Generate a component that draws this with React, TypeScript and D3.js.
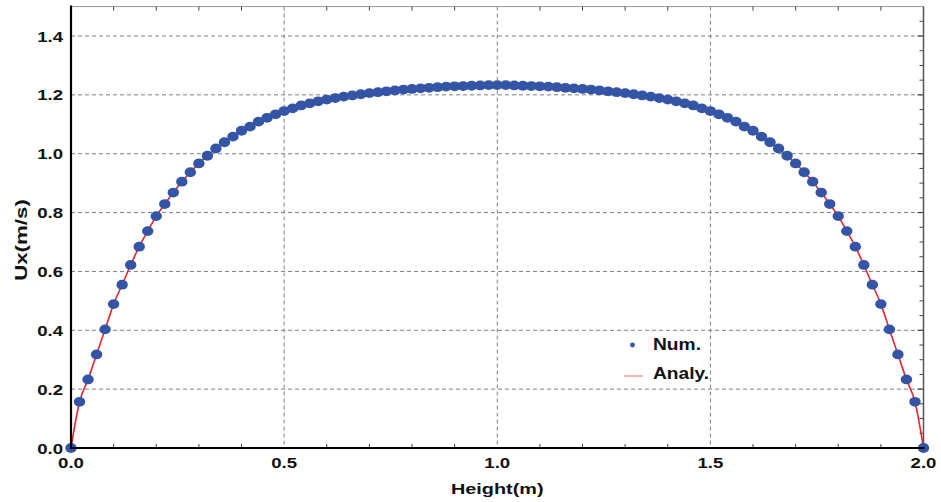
import React from "react";
import * as d3 from "d3";

const heights = [
  0.0, 0.02, 0.04, 0.06, 0.08, 0.1, 0.12, 0.14, 0.16, 0.18,
  0.2, 0.22, 0.24, 0.26, 0.28, 0.3, 0.32, 0.34, 0.36, 0.38,
  0.4, 0.42, 0.44, 0.46, 0.48, 0.5, 0.52, 0.54, 0.56, 0.58,
  0.6, 0.62, 0.64, 0.66, 0.68, 0.7, 0.72, 0.74, 0.76, 0.78,
  0.8, 0.82, 0.84, 0.86, 0.88, 0.9, 0.92, 0.94, 0.96, 0.98,
  1.0, 1.02, 1.04, 1.06, 1.08, 1.1, 1.12, 1.14, 1.16, 1.18,
  1.2, 1.22, 1.24, 1.26, 1.28, 1.3, 1.32, 1.34, 1.36, 1.38,
  1.4, 1.42, 1.44, 1.46, 1.48, 1.5, 1.52, 1.54, 1.56, 1.58,
  1.6, 1.62, 1.64, 1.66, 1.68, 1.7, 1.72, 1.74, 1.76, 1.78,
  1.8, 1.82, 1.84, 1.86, 1.88, 1.9, 1.92, 1.94, 1.96, 1.98,
  2.0,
];

const uxNum = [
  0.0, 0.157, 0.233, 0.318, 0.403, 0.489, 0.555, 0.622, 0.684, 0.737,
  0.788, 0.829, 0.868, 0.905, 0.937, 0.967, 0.993, 1.018, 1.039, 1.058,
  1.078, 1.092, 1.109, 1.122, 1.134, 1.145, 1.154, 1.164, 1.171, 1.178,
  1.184, 1.189, 1.194, 1.198, 1.202, 1.206, 1.209, 1.212, 1.215, 1.218,
  1.22, 1.222, 1.224, 1.226, 1.228, 1.229, 1.23, 1.231, 1.232, 1.233,
  1.233, 1.233, 1.232, 1.231, 1.23, 1.229, 1.228, 1.226, 1.224, 1.222,
  1.22, 1.218, 1.215, 1.212, 1.209, 1.206, 1.202, 1.198, 1.194, 1.189,
  1.184, 1.178, 1.171, 1.164, 1.154, 1.145, 1.134, 1.122, 1.109, 1.092,
  1.078, 1.058, 1.039, 1.018, 0.993, 0.967, 0.937, 0.905, 0.868, 0.829,
  0.788, 0.737, 0.684, 0.622, 0.555, 0.489, 0.403, 0.318, 0.233, 0.157,
  0.0,
];

const uxAnaly = uxNum;

const xMajorTicks = [0.0, 0.5, 1.0, 1.5, 2.0];
const xTickLabels = ["0.0", "0.5", "1.0", "1.5", "2.0"];
const xMinorTicks = [0.1, 0.2, 0.3, 0.4, 0.6, 0.7, 0.8, 0.9, 1.1, 1.2, 1.3, 1.4, 1.6, 1.7, 1.8, 1.9];
const yMajorTicks = [0.0, 0.2, 0.4, 0.6, 0.8, 1.0, 1.2, 1.4];
const yTickLabels = ["0.0", "0.2", "0.4", "0.6", "0.8", "1.0", "1.2", "1.4"];
const yMinorTicks = [0.05, 0.1, 0.15, 0.25, 0.3, 0.35, 0.45, 0.5, 0.55, 0.65, 0.7, 0.75, 0.85, 0.9, 0.95, 1.05, 1.1, 1.15, 1.25, 1.3, 1.35, 1.45];
const legendLabels = ["Num.", "Analy."];

const W = 941;
const H = 502;
const left = 71;
const right = 923.5;
const bottom = 448;

const FONT = "'Liberation Sans', Arial, Helvetica, sans-serif";

export default function App() {
  const x = d3.scaleLinear().domain([0, 2]).range([left, right]);
  const y = d3.scaleLinear().domain([0, 1.5]).range([bottom, bottom - 1.5 * (412 / 1.4)]);
  const pts = heights.map((h, i) => [h, uxNum[i]] as [number, number]);
  const line = d3
    .line<[number, number]>()
    .x((d) => x(d[0]))
    .y((d) => y(d[1]))
    .curve(d3.curveMonotoneX);
  const analyPts = heights.map((h, i) => [h, uxAnaly[i]] as [number, number]);
  const yTop = y(1.5);

  return (
    <svg
      width={W}
      height={H}
      style={{ position: "absolute", left: 0, top: 0, background: "#fff" }}
    >
      <rect x={0} y={0} width={W} height={H} fill="#fff" />
      {xMajorTicks.slice(1, -1).map((t) => (
        <line key={"gx" + t} x1={x(t)} x2={x(t)} y1={yTop} y2={bottom} stroke="#808080" strokeWidth={1} strokeDasharray="4,3" />
      ))}
      {yMajorTicks.slice(1).map((t) => (
        <line key={"gy" + t} x1={left} x2={right} y1={y(t)} y2={y(t)} stroke="#808080" strokeWidth={1} strokeDasharray="4,3" />
      ))}
      <line x1={left} x2={right} y1={yTop} y2={yTop} stroke="#9a9a9a" strokeWidth={1} />
      <line x1={right} x2={right} y1={yTop} y2={bottom} stroke="#555" strokeWidth={1.5} />
      {xMinorTicks.map((t) => (
        <g key={"xt" + t}>
          <line x1={x(t)} x2={x(t)} y1={bottom} y2={bottom - 4} stroke="#444" strokeWidth={1} />
          <line x1={x(t)} x2={x(t)} y1={yTop} y2={yTop + 4} stroke="#444" strokeWidth={1} />
        </g>
      ))}
      {yMinorTicks.map((t) => (
        <line key={"yt" + t} x1={right} x2={right - 4} y1={y(t)} y2={y(t)} stroke="#444" strokeWidth={1} />
      ))}
      {yMajorTicks.map((t) => (
        <line key={"yM" + t} x1={right} x2={right - 6} y1={y(t)} y2={y(t)} stroke="#333" strokeWidth={1} />
      ))}
      <path d={line(analyPts) || ""} fill="none" stroke="#e8262c" strokeWidth={1.6} />
      {pts.map((d, i) => (
        <ellipse key={"p" + i} cx={x(d[0])} cy={y(d[1])} rx={5.7} ry={4.9} fill="#3454a6" />
      ))}
      <line x1={left} x2={left} y1={yTop - 1} y2={bottom + 1} stroke="#000" strokeWidth={2.2} />
      <line x1={left - 1} x2={right + 1} y1={bottom} y2={bottom} stroke="#000" strokeWidth={2.2} />
      {yMajorTicks.map((t, i) => (
        <text
          key={"yl" + t}
          transform={`translate(${left - 8},${y(t) + 5.5}) scale(1.2,1)`}
          textAnchor="end"
          fontFamily={FONT}
          fontWeight="bold"
          fontSize={15.5}
          fill="#111"
        >
          {yTickLabels[i]}
        </text>
      ))}
      {xMajorTicks.map((t, i) => (
        <text
          key={"xl" + t}
          transform={`translate(${x(t)},${bottom + 20}) scale(1.2,1)`}
          textAnchor="middle"
          fontFamily={FONT}
          fontWeight="bold"
          fontSize={15.5}
          fill="#111"
        >
          {xTickLabels[i]}
        </text>
      ))}
      <text
        transform={`translate(${(left + right) / 2},${494}) scale(1.28,1)`}
        textAnchor="middle"
        fontFamily={FONT}
        fontWeight="bold"
        fontSize={15.5}
        fill="#111"
      >
        Height(m)
      </text>
      <text
        transform={`translate(27,240) rotate(-90) scale(1.35,1)`}
        textAnchor="middle"
        fontFamily={FONT}
        fontWeight="bold"
        fontSize={16.5}
        fill="#111"
      >
        Ux(m/s)
      </text>
      <circle cx={632.5} cy={345} r={2.4} fill="#3454a6" />
      <text transform={`translate(653,350) scale(1.2,1)`} fontFamily={FONT} fontWeight="bold" fontSize={16} fill="#111">
        {legendLabels[0]}
      </text>
      <line x1={624} x2={643} y1={376} y2={376} stroke="#f5a3a3" strokeWidth={1.6} />
      <text transform={`translate(653,379) scale(1.2,1)`} fontFamily={FONT} fontWeight="bold" fontSize={16} fill="#111">
        {legendLabels[1]}
      </text>
    </svg>
  );
}
